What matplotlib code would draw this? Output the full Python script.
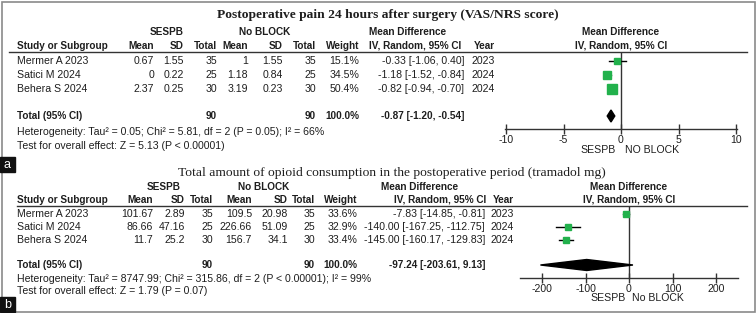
import matplotlib
matplotlib.use('Agg')
import matplotlib.pyplot as plt
from matplotlib.patches import Rectangle

plt.rcParams['font.family'] = ['Liberation Sans', 'DejaVu Sans']
plt.rcParams['axes.unicode_minus'] = False

# ---- panel a : postoperative pain ----
a_title = 'Postoperative pain 24 hours after surgery (VAS/NRS score)'
a_study = ['Mermer A 2023', 'Satici M 2024', 'Behera S 2024']
a_mean1 = [0.67, 0, 2.37]
a_sd1 = [1.55, 0.22, 0.25]
a_n1 = [35, 25, 30]
a_mean2 = [1, 1.18, 3.19]
a_sd2 = [1.55, 0.84, 0.23]
a_n2 = [35, 25, 30]
a_weight = [15.1, 34.5, 50.4]
a_md = [-0.33, -1.18, -0.82]
a_lo = [-1.06, -1.52, -0.94]
a_hi = [0.40, -0.84, -0.70]
a_year = [2023, 2024, 2024]
a_total = [90, 90, 100.0, -0.87, -1.20, -0.54]
a_het = 'Heterogeneity: Tau\u00b2 = 0.05; Chi\u00b2 = 5.81, df = 2 (P = 0.05); I\u00b2 = 66%'
a_test = 'Test for overall effect: Z = 5.13 (P < 0.00001)'
a_ticks = [-10, -5, 0, 5, 10]
a_left, a_right = 'SESPB', 'NO BLOCK'

# ---- panel b : opioid consumption ----
b_title = 'Total amount of opioid consumption in the postoperative period (tramadol mg)'
b_study = ['Mermer A 2023', 'Satici M 2024', 'Behera S 2024']
b_mean1 = [101.67, 86.66, 11.7]
b_sd1 = [2.89, 47.16, 25.2]
b_n1 = [35, 25, 30]
b_mean2 = [109.5, 226.66, 156.7]
b_sd2 = [20.98, 51.09, 34.1]
b_n2 = [35, 25, 30]
b_weight = [33.6, 32.9, 33.4]
b_md = [-7.83, -140.00, -145.00]
b_lo = [-14.85, -167.25, -160.17]
b_hi = [-0.81, -112.75, -129.83]
b_year = [2023, 2024, 2024]
b_total = [90, 90, 100.0, -97.24, -203.61, 9.13]
b_het = 'Heterogeneity: Tau\u00b2 = 8747.99; Chi\u00b2 = 315.86, df = 2 (P < 0.00001); I\u00b2 = 99%'
b_test = 'Test for overall effect: Z = 1.79 (P = 0.07)'
b_ticks = [-200, -100, 0, 100, 200]
b_left, b_right = 'SESPB', 'No BLOCK'

W, H = 756, 313
TXT = '#1e1e1e'
GREEN = '#22b14c'
FS = 7.6      # regular text
FSB = 7.2     # bold text

fig = plt.figure(figsize=(W / 100, H / 100), dpi=100)
base = fig.add_axes([0, 0, 1, 1])
base.set_xlim(0, W)
base.set_ylim(H, 0)
base.axis('off')


def t(x, y, s, ha='left', bold=False, **kw):
    base.text(x, y, s, ha=ha, va='center',
              fontsize=kw.pop('fontsize', FSB if bold else FS),
              fontweight='bold' if bold else 'normal', color=kw.pop('color', TXT), **kw)


def panel(lay, title, study, m1, s1, n1, m2, s2, n2, wt, md, lo, hi, yr, tot,
          het, test, ticks, lft, rgt, title_bold):
    cx = lay['cols']
    t(lay['title_x'], lay['title_y'], title, ha='center', bold=title_bold,
      fontsize=9.7, family=['Liberation Serif', 'DejaVu Serif'])
    gy, hy = lay['group_y'], lay['head_y']
    t(lay['g1'], gy, 'SESPB', ha='center', bold=True)
    t(lay['g2'], gy, 'No BLOCK', ha='center', bold=True)
    t(lay['md1'], gy, 'Mean Difference', ha='center', bold=True)
    t(lay['md2'], hy, 'IV, Random, 95% CI', ha='center', bold=True)
    t(lay['zero'], gy, 'Mean Difference', ha='center', bold=True)
    t(lay['zero'], hy, 'IV, Random, 95% CI', ha='center', bold=True)
    heads = ['Mean', 'SD', 'Total', 'Mean', 'SD', 'Total', 'Weight']
    t(17, hy, 'Study or Subgroup', bold=True)
    for h, x in zip(heads, cx[:7]):
        t(x, hy, h, ha='right', bold=True)
    t(cx[8], hy, 'Year', ha='right', bold=True)
    base.plot([lay['line_x0'], 747], [lay['line_y']] * 2, color='#333333', lw=1)

    for i in range(len(study)):
        y = lay['rows'][i]
        t(17, y, study[i])
        vals = [f'{m1[i]:g}', f'{s1[i]:g}', f'{n1[i]}', f'{m2[i]:g}', f'{s2[i]:g}',
                f'{n2[i]}', f'{wt[i]:.1f}%', f'{md[i]:.2f} [{lo[i]:.2f}, {hi[i]:.2f}]',
                f'{yr[i]}']
        for v, x in zip(vals, cx):
            t(x, y, v, ha='right')
    ty = lay['total_y']
    t(17, ty, 'Total (95% CI)', bold=True)
    t(cx[2], ty, f'{tot[0]}', ha='right', bold=True)
    t(cx[5], ty, f'{tot[1]}', ha='right', bold=True)
    t(cx[6], ty, f'{tot[2]:.1f}%', ha='right', bold=True)
    t(cx[7], ty, f'{tot[3]:.2f} [{tot[4]:.2f}, {tot[5]:.2f}]', ha='right', bold=True)
    t(17, lay['het_y'], het)
    t(17, lay['test_y'], test)

    # forest plot
    z, sc = lay['zero'], lay['scale']
    x0, x1 = lay['xlim']
    ytop, ybot = lay['line_y'], lay['axis_y']
    ax = fig.add_axes([(z + x0 * sc) / W, 1 - ybot / H, (x1 - x0) * sc / W,
                       (ybot - ytop) / H])
    ax.set_xlim(x0, x1)
    ax.set_ylim(ybot, ytop)
    ax.patch.set_visible(False)
    for s in ['top', 'left', 'right']:
        ax.spines[s].set_visible(False)
    ax.spines['bottom'].set_color('#333333')
    ax.spines['bottom'].set_linewidth(1)
    ax.set_yticks([])
    ax.set_xticks(ticks)
    ax.tick_params(axis='x', direction='inout', length=7, width=1, labelsize=FS,
                   pad=1, colors='#333333', labelcolor=TXT)
    ax.axvline(0, color='#333333', lw=1)
    for i in range(len(md)):
        y = lay['rows'][i]
        ax.plot([lo[i], hi[i]], [y, y], color='black', lw=1, clip_on=False)
        ax.plot(md[i], y, marker='s', ms=lay['msc'] * wt[i] ** 0.5 * 0.72,
                color=GREEN, mec=GREEN, clip_on=False)
    dh = lay['dia_h'] / 2
    ax.fill([tot[4], tot[3], tot[5], tot[3]], [ty, ty - dh, ty, ty + dh],
            color='black', clip_on=False, zorder=3)
    t(lay['lab1'], lay['lab_y'], lft, ha='center')
    t(lay['lab2'], lay['lab_y'], rgt, ha='center')


lay_a = dict(cols=[154, 184, 217, 248, 283, 316, 359, 464, 495],
             title_x=388, title_y=15, group_y=32, head_y=46, g1=167, g2=265,
             md1=408, md2=415, line_x0=9, line_y=52, rows=[61, 75, 89],
             total_y=116, het_y=132, test_y=146, zero=621, scale=11.5,
             xlim=(-10.1, 10.1), axis_y=129, msc=1.3, dia_h=12,
             lab1=598, lab2=652, lab_y=150)
lay_b = dict(cols=[153, 185, 213, 252, 288, 315, 357, 485, 514],
             title_x=392, title_y=173, group_y=187, head_y=200, g1=164, g2=264,
             md1=420, md2=440, line_x0=17, line_y=206, rows=[214, 227, 240],
             total_y=265, het_y=279, test_y=291, zero=629, scale=0.435,
             xlim=(-250, 250), axis_y=278, msc=1.05, dia_h=11,
             lab1=608, lab2=658, lab_y=298)

panel(lay_a, a_title, a_study, a_mean1, a_sd1, a_n1, a_mean2, a_sd2, a_n2, a_weight,
      a_md, a_lo, a_hi, a_year, a_total, a_het, a_test, a_ticks, a_left, a_right, True)
panel(lay_b, b_title, b_study, b_mean1, b_sd1, b_n1, b_mean2, b_sd2, b_n2, b_weight,
      b_md, b_lo, b_hi, b_year, b_total, b_het, b_test, b_ticks, b_left, b_right, False)

# outer frame and panel letters
base.add_patch(Rectangle((1.5, 1.5), 753, 310, fill=False, ec='#8a8a8a', lw=1.2))
for letter, y0 in [('a', 157), ('b', 297)]:
    base.add_patch(Rectangle((0, y0), 15, 15, color='#111111', zorder=5))
    base.text(7.5, y0 + 7.5, letter, color='white', ha='center', va='center',
              fontsize=9, zorder=6)

fig.savefig('out.png', dpi=100)
